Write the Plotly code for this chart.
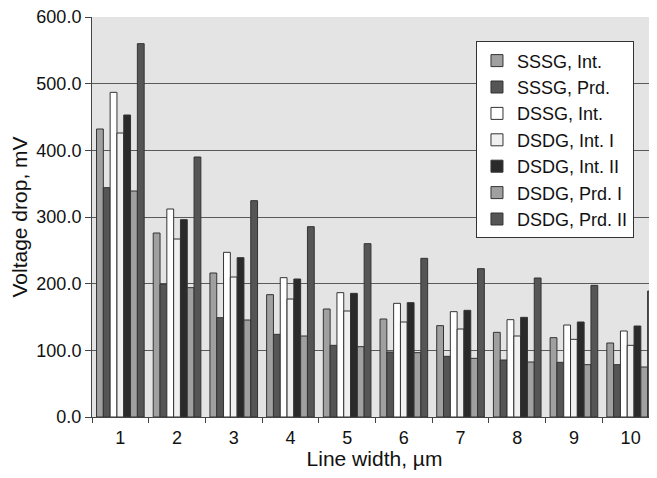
import plotly.graph_objects as go

categories = ["1", "2", "3", "4", "5", "6", "7", "8", "9", "10"]

sssg_int = [432, 276, 216, 183.5, 162, 147, 137, 127, 119, 111]
sssg_prd = [344, 199, 149, 124, 107.5, 97.5, 91, 85.5, 82, 78.5]
dssg_int = [487, 312, 247, 209, 186.5, 170.5, 158, 146, 138, 129]
dsdg_int_1 = [426, 267, 210, 177, 159, 142.5, 132, 121.5, 116.5, 107.5]
dsdg_int_2 = [453, 296, 239, 207, 185.5, 171.5, 160, 149.5, 142.5, 136.5]
dsdg_prd_1 = [339, 194, 145.5, 121.5, 105.5, 96.5, 88, 82.5, 78.5, 75]
dsdg_prd_2 = [560, 390, 324.5, 285.5, 260, 238, 222.5, 208.5, 197.5, 189]

series_names = ["SSSG, Int.", "SSSG, Prd.", "DSSG, Int.", "DSDG, Int. I",
                "DSDG, Int. II", "DSDG, Prd. I", "DSDG, Prd. II"]
series_values = [sssg_int, sssg_prd, dssg_int, dsdg_int_1, dsdg_int_2, dsdg_prd_1, dsdg_prd_2]
series_colors = ["#a0a0a0", "#555555", "#ffffff", "#f0f0f0", "#2a2a2a", "#a0a0a0", "#555555"]

FONT = "Liberation Sans, Arial, sans-serif"

fig = go.Figure()
for i, (name, vals, col) in enumerate(zip(series_names, series_values, series_colors)):
    fig.add_trace(go.Bar(
        x=categories, y=vals, name=name, legendgroup=f"g{i}",
        marker=dict(color=col, line=dict(color="#333333", width=1)),
    ))

fig.update_layout(
    width=649, height=462,
    margin=dict(l=84, r=0, t=8.5, b=52.7),
    barmode="group", bargap=0.16, bargroupgap=0,
    paper_bgcolor="white", plot_bgcolor="#e4e4e4",
    font=dict(family=FONT, size=18, color="#111111"),
    legend=dict(
        x=0.6796, y=0.939, xanchor="left", yanchor="top",
        bgcolor="white", bordercolor="#333333", borderwidth=1,
        font=dict(size=18), traceorder="grouped", tracegroupgap=0,
    ),
    xaxis=dict(
        type="category", range=[-0.5, 9.465], automargin=False,
        showline=True, linecolor="#444444", linewidth=1,
        ticks="outside", tickson="boundaries", ticklen=5, tickcolor="#444444",
        ticklabelstandoff=4,
        title=dict(text="Line width, µm", font=dict(size=21), standoff=11),
        showgrid=False,
    ),
    yaxis=dict(
        range=[0, 600], dtick=100, tickformat=".1f", automargin=False,
        showline=True, linecolor="#444444", linewidth=1,
        ticks="outside", ticklen=6, tickcolor="#444444",
        ticklabeloverflow="allow",
        gridcolor="#5a5a5a", gridwidth=1,
        title=dict(text="Voltage drop, mV", font=dict(size=21), standoff=6),
        zeroline=False,
    ),
)

fig.write_html("out.html")
